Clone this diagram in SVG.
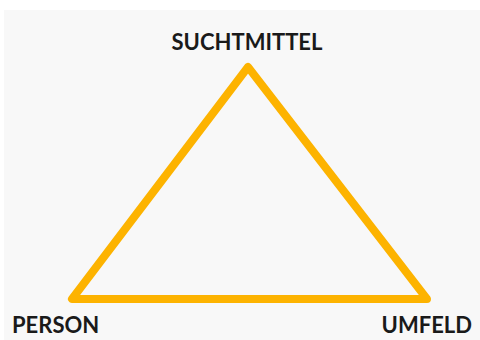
<svg xmlns="http://www.w3.org/2000/svg" width="480" height="340" viewBox="0 0 480 340">
  <style>
    .label { font-family: Lato, "Open Sans", "Liberation Sans", sans-serif; font-weight: 700; font-size: 22px; fill: #1a1a1a; }
    .edge { fill: none; stroke: #FDB300; stroke-width: 8; stroke-linejoin: round; stroke-linecap: round; }
  </style>
  <rect x="0" y="0" width="480" height="340" fill="#ffffff"/>
  <rect x="4" y="10" width="476" height="330" fill="#f8f8f8"/>
  <g id="connectors">
    <polygon class="edge" points="248,67 72,299 427,299"/>
  </g>
  <g id="node-suchtmittel">
    <text class="label" x="247" y="50" text-anchor="middle">SUCHTMITTEL</text>
  </g>
  <g id="node-person">
    <text class="label" x="12" y="333">PERSON</text>
  </g>
  <g id="node-umfeld">
    <text class="label" x="472" y="333" text-anchor="end">UMFELD</text>
  </g>
</svg>
